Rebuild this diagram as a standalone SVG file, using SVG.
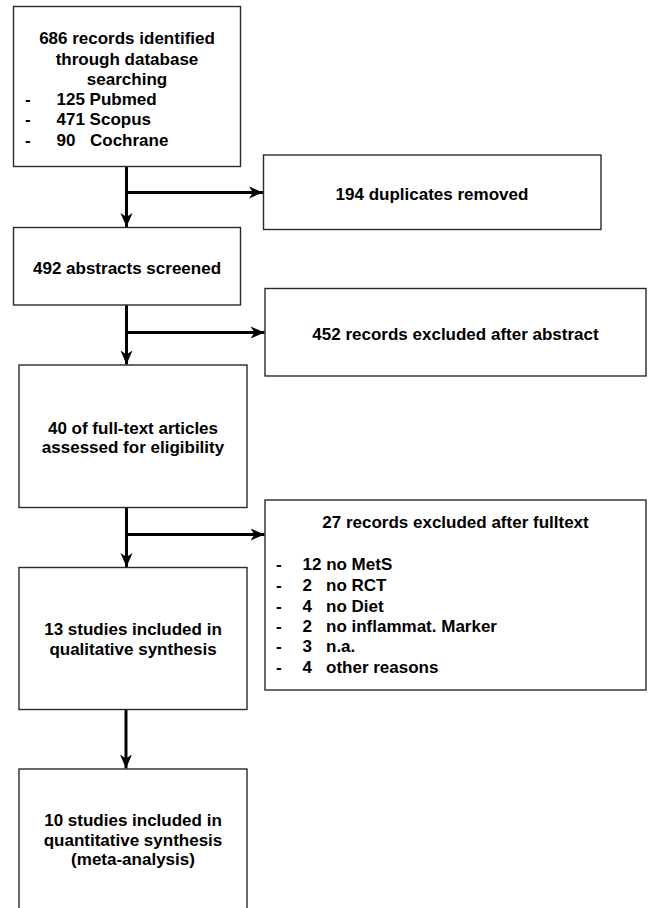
<svg xmlns="http://www.w3.org/2000/svg" width="651" height="908" viewBox="0 0 651 908">
<defs>
<style>
.box{fill:#fff;stroke:#2a2a2a;stroke-width:1.4}
.t{font-family:"Liberation Sans",Arial,sans-serif;font-weight:bold;font-size:17px;fill:#000}
.c{text-anchor:middle}
.con{fill:none;stroke:#000;stroke-width:3}
</style>
<marker id="ah" markerUnits="userSpaceOnUse" markerWidth="15" markerHeight="13" refX="14" refY="6.5" orient="auto">
<path d="M0,0.5 L14,6.5 L0,12.5 L4,6.5 Z" fill="#000"/>
</marker>
</defs>
<rect width="651" height="908" fill="#fff"/>

<g id="connectors">
<line class="con" x1="126.5" y1="166.5" x2="126.5" y2="227" marker-end="url(#ah)"/>
<line class="con" x1="126.5" y1="192.5" x2="263" y2="192.5" marker-end="url(#ah)"/>
<line class="con" x1="126.5" y1="305" x2="126.5" y2="364.5" marker-end="url(#ah)"/>
<line class="con" x1="126.5" y1="332.5" x2="264.5" y2="332.5" marker-end="url(#ah)"/>
<line class="con" x1="126.5" y1="507.5" x2="126.5" y2="567" marker-end="url(#ah)"/>
<line class="con" x1="126.5" y1="534.5" x2="264.5" y2="534.5" marker-end="url(#ah)"/>
<line class="con" x1="126" y1="709.5" x2="126" y2="768.5" marker-end="url(#ah)"/>
</g>

<g id="identified">
<rect class="box" x="13.5" y="6.5" width="227" height="160"/>
<text class="t c" x="127" y="44">686 records identified</text>
<text class="t c" x="127" y="64.5">through database</text>
<text class="t c" x="127" y="84.5">searching</text>
<text class="t" x="25" y="104.5">-</text>
<text class="t" x="56.5" y="104.5">125 Pubmed</text>
<text class="t" x="25" y="125">-</text>
<text class="t" x="56.5" y="125">471 Scopus</text>
<text class="t" x="25" y="146">-</text>
<text class="t" x="56.5" y="146">90</text>
<text class="t" x="90" y="146">Cochrane</text>
</g>

<g id="duplicates">
<rect class="box" x="263.5" y="155" width="337.5" height="74.5"/>
<text class="t c" x="432" y="200">194 duplicates removed</text>
</g>

<g id="screened">
<rect class="box" x="13.5" y="227.5" width="227" height="77.5"/>
<text class="t c" x="127" y="273.5">492 abstracts screened</text>
</g>

<g id="excluded-abstract">
<rect class="box" x="265" y="288.5" width="381" height="87.5"/>
<text class="t c" x="455.5" y="339.5">452 records excluded after abstract</text>
</g>

<g id="fulltext">
<rect class="box" x="19" y="365" width="228" height="142.5"/>
<text class="t c" x="133" y="433.5">40 of full-text articles</text>
<text class="t c" x="133" y="453">assessed for eligibility</text>
</g>

<g id="excluded-fulltext">
<rect class="box" x="265" y="500" width="381" height="190"/>
<text class="t c" x="455.5" y="527.5">27 records excluded after fulltext</text>
<text class="t" x="276" y="570">-</text><text class="t" x="302.5" y="570">12 no MetS</text>
<text class="t" x="276" y="591">-</text><text class="t" x="302.5" y="591">2</text><text class="t" x="326" y="591">no RCT</text>
<text class="t" x="276" y="611.5">-</text><text class="t" x="302.5" y="611.5">4</text><text class="t" x="326" y="611.5">no Diet</text>
<text class="t" x="276" y="632">-</text><text class="t" x="302.5" y="632">2</text><text class="t" x="326" y="632">no inflammat. Marker</text>
<text class="t" x="276" y="652">-</text><text class="t" x="302.5" y="652">3</text><text class="t" x="326" y="652">n.a.</text>
<text class="t" x="276" y="673">-</text><text class="t" x="302.5" y="673">4</text><text class="t" x="326" y="673">other reasons</text>
</g>

<g id="qualitative">
<rect class="box" x="19" y="567.5" width="228" height="142"/>
<text class="t c" x="133" y="635">13 studies included in</text>
<text class="t c" x="133" y="655">qualitative synthesis</text>
</g>

<g id="quantitative">
<rect class="box" x="19" y="769" width="228" height="150"/>
<text class="t c" x="133" y="826">10 studies included in</text>
<text class="t c" x="133" y="845.5">quantitative synthesis</text>
<text class="t c" x="133" y="865">(meta-analysis)</text>
</g>
</svg>
